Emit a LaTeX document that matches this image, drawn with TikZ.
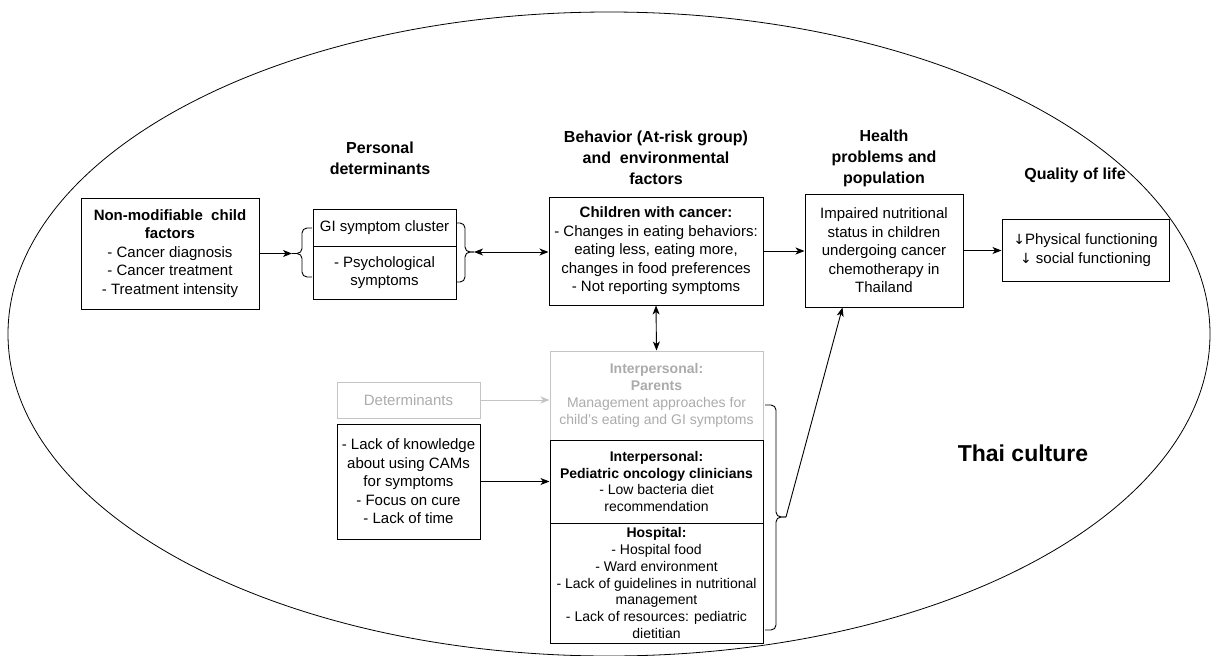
\documentclass[tikz,border=0pt]{standalone}
\usepackage{fontspec}
\setmainfont{Liberation Sans}
\newfontfamily\arrowfont{DejaVu Sans}
\usetikzlibrary{arrows.meta}

\definecolor{greyline}{HTML}{C4C4C4}
\definecolor{greytext}{HTML}{ABABAB}

\newcommand{\dnarrow}{{\arrowfont\fontsize{14}{16}\selectfont ↓}}

\tikzset{
  box/.style={rectangle, draw, line width=1pt, align=center, inner sep=1pt,
    font=\fontsize{15}{18.5}\selectfont},
  smallbox/.style={box, font=\fontsize{14}{16.8}\selectfont},
  greybox/.style={smallbox, draw=greyline, text=greytext},
  heading/.style={align=center, font=\bfseries\fontsize{16}{21}\selectfont},
  link/.style={-{Stealth[length=9pt,width=7pt,inset=2.5pt]}, line width=0.9pt},
  twoway/.style={{Stealth[length=9pt,width=7pt,inset=2.5pt]}-{Stealth[length=9pt,width=7pt,inset=2.5pt]}, line width=0.9pt},
  curly/.style={rounded corners=5pt, line width=0.9pt}
}

\begin{document}
\begin{tikzpicture}[x=1pt, y=-1pt]
\useasboundingbox (0,0) rectangle (1211,656);

% culture
\draw[line width=0.8pt] (609,334) ellipse [x radius=601pt, y radius=322pt];
\node[font=\bfseries\fontsize{23}{27}\selectfont] (thai) at (1023,453) {Thai culture};

% headings
\node[heading] (personal) at (380,158) {Personal\\determinants};
\node[heading] (behav) at (656,158) {Behavior (At-risk group)\\and\ \ environmental\\factors};
\node[heading] (healthhead) at (884,158) {Health\\problems and\\population};
\node[heading] (qolhead) at (1075,175) {Quality of life};

% top row
\node[box, minimum width=178pt, minimum height=111pt] (nonmod) at (170,253.5)
  {\textbf{Non-modifiable\ \ child}\\\textbf{factors}\\- Cancer diagnosis\\- Cancer treatment\\- Treatment intensity};
\node[box, minimum width=143pt, minimum height=37pt] (gitop) at (384.5,227.5) {GI symptom cluster};
\node[box, minimum width=143pt, minimum height=53pt] (gibot) at (384.5,272.5) {- Psychological\\symptoms};
\node[box, minimum width=214pt, minimum height=108pt] (children) at (656,251)
  {\textbf{Children with cancer:}\\- Changes in eating behaviors:\\eating less, eating more,\\changes in food preferences\\- Not reporting symptoms};
\node[box, minimum width=158pt, minimum height=113pt] (health) at (884,250.5)
  {Impaired nutritional\\status in children\\undergoing cancer\\chemotherapy in\\Thailand};
\node[box, minimum width=167pt, minimum height=62pt] (qol) at (1085.5,250)
  {\dnarrow Physical functioning\\\dnarrow\ social functioning};

% lower part
\node[box, draw=greyline, text=greytext, minimum width=143pt, minimum height=36pt] (determ) at (408.5,400) {Determinants};
\node[box, minimum width=143pt, minimum height=115pt] (lack) at (408.5,481.5)
  {- Lack of knowledge\\about using CAMs\\for symptoms\\- Focus on cure\\- Lack of time};
\node[greybox, minimum width=213pt, minimum height=89pt] (parents) at (656.5,395.5)
  {\textbf{Interpersonal:}\\\textbf{Parents}\\Management approaches for\\child's eating and GI symptoms};
\node[smallbox, minimum width=213pt, minimum height=83pt] (clinic) at (656.5,481.5)
  {\textbf{Interpersonal:}\\\textbf{Pediatric oncology clinicians}\\- Low bacteria diet\\recommendation};
\node[smallbox, minimum width=213pt, minimum height=120pt] (hospital) at (656.5,583)
  {\textbf{Hospital:}\\- Hospital food\\- Ward environment\\- Lack of guidelines in nutritional\\management\\- Lack of resources: pediatric\\dietitian};

% braces
\coordinate (lbr) at (292,253.5);
\draw[curly] (312,228) -- (302,228) -- (302,253.5) -- (lbr);
\draw[curly] (lbr) -- (302,253.5) -- (302,277) -- (312,277);
\coordinate (rbr) at (474,252);
\draw[curly] (456,223) -- (465,223) -- (465,252) -- (rbr);
\draw[curly] (rbr) -- (465,252) -- (465,282) -- (456,282);
\coordinate (bbr) at (786,517);
\draw[curly] (765,405) -- (776,405) -- (776,517) -- (bbr);
\draw[curly] (bbr) -- (776,517) -- (776,630) -- (765,630);

% connectors
\draw[link] (nonmod.east) -- (lbr);
\draw[twoway] (rbr) -- (children.west |- rbr);
\draw[link] (children.east) -- (health.west |- children.east);
\draw[link] (health.east) -- (qol.west |- health.east);
\draw[twoway] (children.south) -- (parents.north);
\draw[link, greyline] (determ.east) -- (parents.west |- determ.east);
\draw[link] (lack.east) -- (clinic.west);
\draw[link] (bbr) -- ([xshift=38pt]health.south west);

\end{tikzpicture}
\end{document}
